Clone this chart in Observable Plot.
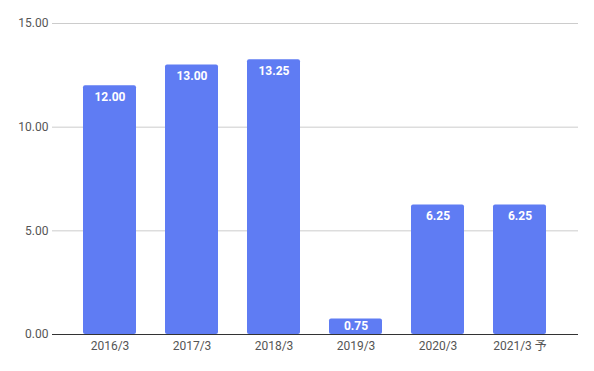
<!DOCTYPE html>
<html>
<head>
<meta charset="utf-8">
<script src="https://cdn.jsdelivr.net/npm/d3@7"></script>
<script src="https://cdn.jsdelivr.net/npm/@observablehq/plot@0.6"></script>
<style>
  html, body { margin: 0; padding: 0; background: #fff; }
  #chart svg { display: block; }
</style>
</head>
<body>
<div id="chart"></div>
<script>
const categories = ["2016/3", "2017/3", "2018/3", "2019/3", "2020/3", "2021/3 予"];
const values = [12.00, 13.00, 13.25, 0.75, 6.25, 6.25];
const yTicks = [0, 5, 10, 15];

const data = categories.map((c, i) => ({category: c, value: values[i]}));

const chart = Plot.plot({
  width: 594,
  height: 371,
  marginTop: 23,
  marginBottom: 37,
  marginLeft: 52,
  marginRight: 16,
  style: {fontFamily: "Roboto, 'Noto Sans CJK JP', sans-serif", fontSize: "12px", background: "#fff"},
  x: {domain: categories, padding: 0.35, label: null},
  y: {domain: [0, 15], label: null},
  marks: [
    Plot.gridY(yTicks.filter(t => t > 0), {stroke: "#cccccc", strokeOpacity: 1}),
    Plot.axisY({ticks: yTicks, tickSize: 0, tickPadding: 4, tickFormat: d => d.toFixed(2), fill: "#555", label: null}),
    Plot.axisX({tickSize: 0, tickPadding: 7, fill: "#555", label: null}),
    Plot.barY(data, {x: "category", y: "value", fill: "#5f7cf3", rx: 2}),
    Plot.ruleY([0], {stroke: "#333333", strokeWidth: 1}),
    Plot.text(data.filter(d => d.value >= 1), {x: "category", y: "value", text: d => d.value.toFixed(2), fill: "#ffffff", fontWeight: "bold", fontSize: 12, dy: 11}),
    Plot.text(data.filter(d => d.value < 1), {x: "category", y: "value", text: d => d.value.toFixed(2), fill: "#ffffff", fontWeight: "bold", fontSize: 12, dy: 7})
  ]
});
document.getElementById("chart").appendChild(chart);
</script>
</body>
</html>
